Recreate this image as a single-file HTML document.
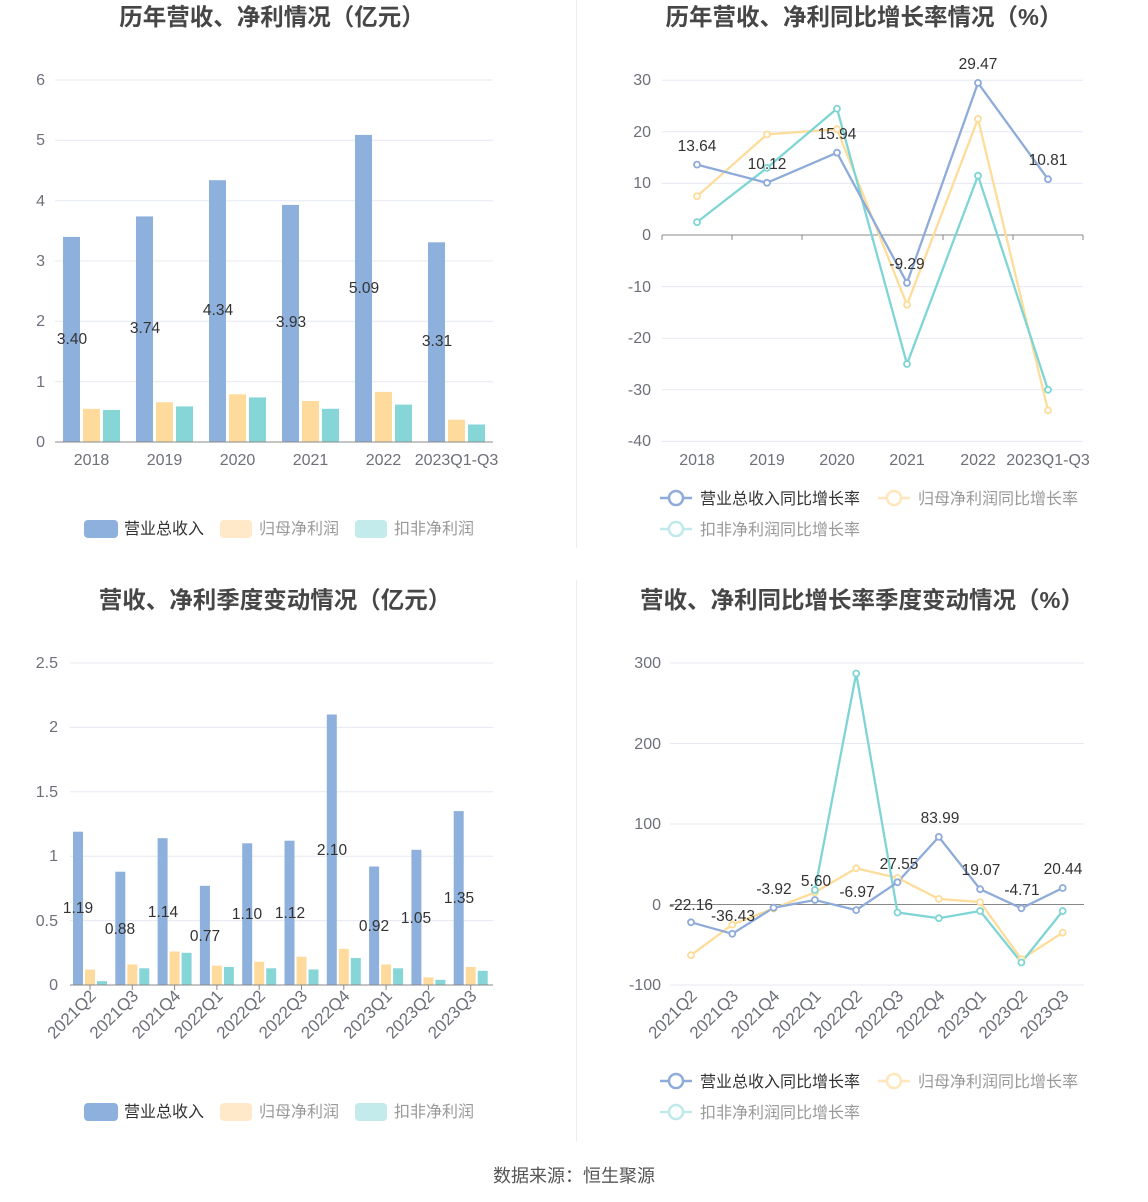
<!DOCTYPE html>
<html><head><meta charset="utf-8"><style>
body{margin:0;background:#fff;}
svg{display:block;font-family:"Liberation Sans","Noto Sans CJK SC",sans-serif;}
.t{font-size:23.5px;font-weight:bold;fill:#464646;text-anchor:middle;}
.ax{font-size:16px;fill:#6e7079;}
.rx{font-size:17px;fill:#6e7079;}
.v{font-size:15.5px;fill:#333;text-anchor:middle;}
.lg{font-size:16px;}
.g{stroke:#e6e8f2;stroke-width:1;}
</style></head><body>
<svg width="1148" height="1202" viewBox="0 0 1148 1202">
<line x1="576.5" y1="0" x2="576.5" y2="548" stroke="#eee"/>
<line x1="576.5" y1="580" x2="576.5" y2="1142" stroke="#eee"/>

<!-- Chart 1 -->
<text class="t" x="272" y="25">历年营收、净利情况（亿元）</text>
<g class="g">
<line x1="55" y1="381.7" x2="493" y2="381.7"/><line x1="55" y1="321.3" x2="493" y2="321.3"/><line x1="55" y1="261" x2="493" y2="261"/><line x1="55" y1="200.7" x2="493" y2="200.7"/><line x1="55" y1="140.3" x2="493" y2="140.3"/><line x1="55" y1="80" x2="493" y2="80"/>
</g>
<g class="ax" text-anchor="end">
<text x="45" y="447">0</text><text x="45" y="387">1</text><text x="45" y="326">2</text><text x="45" y="266">3</text><text x="45" y="206">4</text><text x="45" y="145">5</text><text x="45" y="85">6</text>
</g>
<g fill="#8eb0dc">
<rect x="63" y="236.9" width="17" height="205.1"/><rect x="136" y="216.4" width="17" height="225.6"/><rect x="209" y="180.2" width="17" height="261.8"/><rect x="282" y="204.9" width="17" height="237.1"/><rect x="355" y="134.9" width="17" height="307.1"/><rect x="428" y="242.3" width="17" height="199.7"/>
</g>
<g fill="#fedb9d">
<rect x="83" y="408.8" width="17" height="33.2"/><rect x="156" y="402.2" width="17" height="39.8"/><rect x="229" y="394.3" width="17" height="47.7"/><rect x="302" y="401" width="17" height="41"/><rect x="375" y="391.9" width="17" height="50.1"/><rect x="448" y="419.7" width="17" height="22.3"/>
</g>
<g fill="#86d6d8">
<rect x="103" y="410" width="17" height="32"/><rect x="176" y="406.4" width="17" height="35.6"/><rect x="249" y="397.4" width="17" height="44.6"/><rect x="322" y="408.8" width="17" height="33.2"/><rect x="395" y="404.6" width="17" height="37.4"/><rect x="468" y="424.5" width="17" height="17.5"/>
</g>
<line x1="55" y1="442" x2="493" y2="442" stroke="#888"/>
<g class="v"><text x="72" y="344">3.40</text><text x="145" y="333">3.74</text><text x="218" y="315">4.34</text><text x="291" y="327">3.93</text><text x="364" y="293">5.09</text><text x="437" y="346">3.31</text></g>
<g class="ax" text-anchor="middle"><text x="91.5" y="465">2018</text><text x="164.5" y="465">2019</text><text x="237.5" y="465">2020</text><text x="310.5" y="465">2021</text><text x="383.5" y="465">2022</text><text x="456.5" y="465">2023Q1-Q3</text></g>
<rect x="84" y="520" width="34" height="18" rx="4" fill="#8eb0dc"/><text class="lg" x="124" y="534" fill="#333">营业总收入</text>
<rect x="220" y="520" width="32" height="18" rx="4" fill="#ffe9c8"/><text class="lg" x="259" y="534" fill="#999">归母净利润</text>
<rect x="355" y="520" width="32" height="18" rx="4" fill="#c3ebec"/><text class="lg" x="394" y="534" fill="#999">扣非净利润</text>

<!-- Chart 2 -->
<text class="t" x="864" y="25">历年营收、净利同比增长率情况（%）</text>
<g class="g">
<line x1="662" y1="80.2" x2="1083" y2="80.2"/><line x1="662" y1="131.8" x2="1083" y2="131.8"/><line x1="662" y1="183.4" x2="1083" y2="183.4"/><line x1="662" y1="286.6" x2="1083" y2="286.6"/><line x1="662" y1="338.2" x2="1083" y2="338.2"/><line x1="662" y1="389.8" x2="1083" y2="389.8"/><line x1="662" y1="441.4" x2="1083" y2="441.4"/>
</g>
<line x1="662" y1="235" x2="1083" y2="235" stroke="#888"/>
<g stroke="#888"><line x1="662" y1="235" x2="662" y2="240"/><line x1="732" y1="235" x2="732" y2="240"/><line x1="802" y1="235" x2="802" y2="240"/><line x1="872" y1="235" x2="872" y2="240"/><line x1="943" y1="235" x2="943" y2="240"/><line x1="1013" y1="235" x2="1013" y2="240"/><line x1="1083" y1="235" x2="1083" y2="240"/></g>
<g class="ax" text-anchor="end"><text x="651" y="85">30</text><text x="651" y="137">20</text><text x="651" y="188">10</text><text x="651" y="240">0</text><text x="651" y="292">-10</text><text x="651" y="343">-20</text><text x="651" y="395">-30</text><text x="651" y="446">-40</text></g>
<g fill="none" stroke-width="2.3">
<polyline stroke="#fedc9a" points="697,196.3 767,134.4 837,129.2 907,304.7 978,118.9 1048,410.4"/>
<polyline stroke="#7fd5d5" points="697,222.1 767,167.9 837,108.6 907,364 978,175.7 1048,389.8"/>
<polyline stroke="#8eabda" points="697,164.6 767,182.8 837,152.7 907,282.9 978,82.9 1048,179.2"/>
</g>
<g fill="#fff" stroke-width="1.8">
<g stroke="#fedc9a"><circle cx="697" cy="196.3" r="3"/><circle cx="767" cy="134.4" r="3"/><circle cx="837" cy="129.2" r="3"/><circle cx="907" cy="304.7" r="3"/><circle cx="978" cy="118.9" r="3"/><circle cx="1048" cy="410.4" r="3"/></g>
<g stroke="#7fd5d5"><circle cx="697" cy="222.1" r="3"/><circle cx="767" cy="167.9" r="3"/><circle cx="837" cy="108.6" r="3"/><circle cx="907" cy="364" r="3"/><circle cx="978" cy="175.7" r="3"/><circle cx="1048" cy="389.8" r="3"/></g>
<g stroke="#8eabda"><circle cx="697" cy="164.6" r="3"/><circle cx="767" cy="182.8" r="3"/><circle cx="837" cy="152.7" r="3"/><circle cx="907" cy="282.9" r="3"/><circle cx="978" cy="82.9" r="3"/><circle cx="1048" cy="179.2" r="3"/></g>
</g>
<g class="v"><text x="697" y="151">13.64</text><text x="767" y="169">10.12</text><text x="837" y="139">15.94</text><text x="907" y="269">-9.29</text><text x="978" y="69">29.47</text><text x="1048" y="165">10.81</text></g>
<g class="ax" text-anchor="middle"><text x="697" y="465">2018</text><text x="767" y="465">2019</text><text x="837" y="465">2020</text><text x="907" y="465">2021</text><text x="978" y="465">2022</text><text x="1048" y="465">2023Q1-Q3</text></g>
<g fill="#fff" stroke-width="2.5">
<line x1="660" y1="498" x2="692" y2="498" stroke="#8eabda"/><circle cx="676" cy="498" r="7" stroke="#8eabda"/>
<line x1="878" y1="498" x2="910" y2="498" stroke="#ffe6bb"/><circle cx="894" cy="498" r="7" stroke="#ffe6bb"/>
<line x1="660" y1="529" x2="692" y2="529" stroke="#bfe9ea"/><circle cx="676" cy="529" r="7" stroke="#bfe9ea"/>
</g>
<text class="lg" x="700" y="504" fill="#333">营业总收入同比增长率</text>
<text class="lg" x="918" y="504" fill="#999">归母净利润同比增长率</text>
<text class="lg" x="700" y="535" fill="#999">扣非净利润同比增长率</text>

<!-- Chart 3 -->
<text class="t" x="275" y="608">营收、净利季度变动情况（亿元）</text>
<g class="g"><line x1="70" y1="920.6" x2="493" y2="920.6"/><line x1="70" y1="856.2" x2="493" y2="856.2"/><line x1="70" y1="791.8" x2="493" y2="791.8"/><line x1="70" y1="727.4" x2="493" y2="727.4"/><line x1="70" y1="663" x2="493" y2="663"/></g>
<g class="ax" text-anchor="end"><text x="58" y="990">0</text><text x="58" y="926">0.5</text><text x="58" y="861">1</text><text x="58" y="797">1.5</text><text x="58" y="732">2</text><text x="58" y="668">2.5</text></g>
<g fill="#8eb0dc">
<rect x="73" y="831.7" width="10" height="153.3"/><rect x="115.3" y="871.7" width="10" height="113.3"/><rect x="157.6" y="838.2" width="10" height="146.8"/><rect x="199.9" y="885.8" width="10" height="99.2"/><rect x="242.2" y="843.3" width="10" height="141.7"/><rect x="284.5" y="840.7" width="10" height="144.3"/><rect x="326.8" y="714.5" width="10" height="270.5"/><rect x="369.1" y="866.5" width="10" height="118.5"/><rect x="411.4" y="849.8" width="10" height="135.2"/><rect x="453.7" y="811.1" width="10" height="173.9"/>
</g>
<g fill="#fedb9d">
<rect x="85" y="969.5" width="10" height="15.5"/><rect x="127.3" y="964.4" width="10" height="20.6"/><rect x="169.6" y="951.5" width="10" height="33.5"/><rect x="211.9" y="965.7" width="10" height="19.3"/><rect x="254.2" y="961.8" width="10" height="23.2"/><rect x="296.5" y="956.7" width="10" height="28.3"/><rect x="338.8" y="948.9" width="10" height="36.1"/><rect x="381.1" y="964.4" width="10" height="20.6"/><rect x="423.4" y="977.3" width="10" height="7.7"/><rect x="465.7" y="967" width="10" height="18"/>
</g>
<g fill="#86d6d8">
<rect x="97" y="981.1" width="10" height="3.9"/><rect x="139.3" y="968.3" width="10" height="16.7"/><rect x="181.6" y="952.8" width="10" height="32.2"/><rect x="223.9" y="967" width="10" height="18"/><rect x="266.2" y="968.3" width="10" height="16.7"/><rect x="308.5" y="969.5" width="10" height="15.5"/><rect x="350.8" y="958" width="10" height="27"/><rect x="393.1" y="968.3" width="10" height="16.7"/><rect x="435.4" y="979.8" width="10" height="5.2"/><rect x="477.7" y="970.8" width="10" height="14.2"/>
</g>
<line x1="70" y1="985" x2="493" y2="985" stroke="#888"/>
<g stroke="#888"><line x1="90" y1="985" x2="90" y2="990"/><line x1="132.3" y1="985" x2="132.3" y2="990"/><line x1="174.6" y1="985" x2="174.6" y2="990"/><line x1="216.9" y1="985" x2="216.9" y2="990"/><line x1="259.2" y1="985" x2="259.2" y2="990"/><line x1="301.5" y1="985" x2="301.5" y2="990"/><line x1="343.8" y1="985" x2="343.8" y2="990"/><line x1="386.1" y1="985" x2="386.1" y2="990"/><line x1="428.4" y1="985" x2="428.4" y2="990"/><line x1="470.7" y1="985" x2="470.7" y2="990"/></g>
<g class="v"><text x="78" y="913">1.19</text><text x="120" y="934">0.88</text><text x="163" y="917">1.14</text><text x="205" y="941">0.77</text><text x="247" y="919">1.10</text><text x="290" y="918">1.12</text><text x="332" y="855">2.10</text><text x="374" y="931">0.92</text><text x="416" y="923">1.05</text><text x="459" y="903">1.35</text></g>
<g class="rx" text-anchor="end">
<text transform="translate(97,997) rotate(-45)">2021Q2</text><text transform="translate(139.3,997) rotate(-45)">2021Q3</text><text transform="translate(181.6,997) rotate(-45)">2021Q4</text><text transform="translate(223.9,997) rotate(-45)">2022Q1</text><text transform="translate(266.2,997) rotate(-45)">2022Q2</text><text transform="translate(308.5,997) rotate(-45)">2022Q3</text><text transform="translate(350.8,997) rotate(-45)">2022Q4</text><text transform="translate(393.1,997) rotate(-45)">2023Q1</text><text transform="translate(435.4,997) rotate(-45)">2023Q2</text><text transform="translate(477.7,997) rotate(-45)">2023Q3</text>
</g>
<rect x="84" y="1103" width="34" height="18" rx="4" fill="#8eb0dc"/><text class="lg" x="124" y="1117" fill="#333">营业总收入</text>
<rect x="220" y="1103" width="32" height="18" rx="4" fill="#ffe9c8"/><text class="lg" x="259" y="1117" fill="#999">归母净利润</text>
<rect x="355" y="1103" width="32" height="18" rx="4" fill="#c3ebec"/><text class="lg" x="394" y="1117" fill="#999">扣非净利润</text>

<!-- Chart 4 -->
<text class="t" x="862" y="608">营收、净利同比增长率季度变动情况（%）</text>
<g class="g"><line x1="670" y1="663" x2="1084" y2="663"/><line x1="670" y1="743.5" x2="1084" y2="743.5"/><line x1="670" y1="824" x2="1084" y2="824"/><line x1="670" y1="985" x2="1084" y2="985"/></g>
<line x1="670" y1="904.5" x2="1084" y2="904.5" stroke="#888"/>
<g class="ax" text-anchor="end"><text x="661" y="668">300</text><text x="661" y="749">200</text><text x="661" y="829">100</text><text x="661" y="910">0</text><text x="661" y="990">-100</text></g>
<g fill="none" stroke-width="2.3">
<polyline stroke="#fedc9a" points="691,955.2 732.3,924.6 773.6,908.5 814.9,892.4 856.2,868.3 897.5,877.9 938.8,898.9 980.1,902.1 1021.4,959.2 1062.7,932.7"/>
<polyline stroke="#7fd5d5" points="814.9,890 856.2,673.5 897.5,912.5 938.8,918.2 980.1,911 1021.4,962.5 1062.7,911"/>
<polyline stroke="#8eabda" points="691,922.3 732.3,933.8 773.6,907.7 814.9,900 856.2,910.1 897.5,882.3 938.8,836.9 980.1,889.2 1021.4,908.3 1062.7,888"/>
</g>
<g fill="#fff" stroke-width="1.8">
<g stroke="#fedc9a"><circle cx="691" cy="955.2" r="3"/><circle cx="732.3" cy="924.6" r="3"/><circle cx="773.6" cy="908.5" r="3"/><circle cx="814.9" cy="892.4" r="3"/><circle cx="856.2" cy="868.3" r="3"/><circle cx="897.5" cy="877.9" r="3"/><circle cx="938.8" cy="898.9" r="3"/><circle cx="980.1" cy="902.1" r="3"/><circle cx="1021.4" cy="959.2" r="3"/><circle cx="1062.7" cy="932.7" r="3"/></g>
<g stroke="#7fd5d5"><circle cx="814.9" cy="890" r="3"/><circle cx="856.2" cy="673.5" r="3"/><circle cx="897.5" cy="912.5" r="3"/><circle cx="938.8" cy="918.2" r="3"/><circle cx="980.1" cy="911" r="3"/><circle cx="1021.4" cy="962.5" r="3"/><circle cx="1062.7" cy="911" r="3"/></g>
<g stroke="#8eabda"><circle cx="691" cy="922.3" r="3"/><circle cx="732.3" cy="933.8" r="3"/><circle cx="773.6" cy="907.7" r="3"/><circle cx="814.9" cy="900" r="3"/><circle cx="856.2" cy="910.1" r="3"/><circle cx="897.5" cy="882.3" r="3"/><circle cx="938.8" cy="836.9" r="3"/><circle cx="980.1" cy="889.2" r="3"/><circle cx="1021.4" cy="908.3" r="3"/><circle cx="1062.7" cy="888" r="3"/></g>
</g>
<g class="v"><text x="691" y="910">-22.16</text><text x="733" y="921">-36.43</text><text x="774" y="894">-3.92</text><text x="816" y="886">5.60</text><text x="857" y="897">-6.97</text><text x="899" y="869">27.55</text><text x="940" y="823">83.99</text><text x="981" y="875">19.07</text><text x="1022" y="895">-4.71</text><text x="1063" y="874">20.44</text></g>
<g class="rx" text-anchor="end">
<text transform="translate(698,997) rotate(-45)">2021Q2</text><text transform="translate(739.3,997) rotate(-45)">2021Q3</text><text transform="translate(780.6,997) rotate(-45)">2021Q4</text><text transform="translate(821.9,997) rotate(-45)">2022Q1</text><text transform="translate(863.2,997) rotate(-45)">2022Q2</text><text transform="translate(904.5,997) rotate(-45)">2022Q3</text><text transform="translate(945.8,997) rotate(-45)">2022Q4</text><text transform="translate(987.1,997) rotate(-45)">2023Q1</text><text transform="translate(1028.4,997) rotate(-45)">2023Q2</text><text transform="translate(1069.7,997) rotate(-45)">2023Q3</text>
</g>
<g fill="#fff" stroke-width="2.5">
<line x1="660" y1="1081" x2="692" y2="1081" stroke="#8eabda"/><circle cx="676" cy="1081" r="7" stroke="#8eabda"/>
<line x1="878" y1="1081" x2="910" y2="1081" stroke="#ffe6bb"/><circle cx="894" cy="1081" r="7" stroke="#ffe6bb"/>
<line x1="660" y1="1112" x2="692" y2="1112" stroke="#bfe9ea"/><circle cx="676" cy="1112" r="7" stroke="#bfe9ea"/>
</g>
<text class="lg" x="700" y="1087" fill="#333">营业总收入同比增长率</text>
<text class="lg" x="918" y="1087" fill="#999">归母净利润同比增长率</text>
<text class="lg" x="700" y="1118" fill="#999">扣非净利润同比增长率</text>

<text x="574" y="1182" text-anchor="middle" font-size="18" fill="#555">数据来源：恒生聚源</text>
</svg>
</body></html>
